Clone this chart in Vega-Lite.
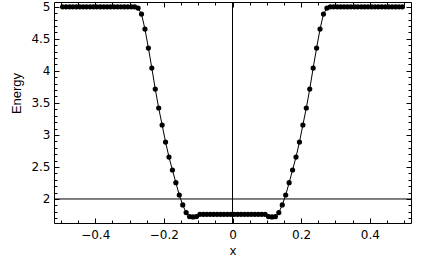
{
  "$schema": "https://vega.github.io/schema/vega-lite/v6.json",
  "width": 357,
  "height": 221,
  "autosize": "none",
  "padding": {"left": 54, "top": 2, "right": 10, "bottom": 37},
  "background": "white",
  "config": {
    "view": {"stroke": null},
    "axis": {
      "grid": false,
      "domainColor": "black",
      "domainWidth": 1,
      "tickColor": "black",
      "tickWidth": 1,
      "labelColor": "black",
      "labelFont": "DejaVu Sans",
      "labelFontSize": 12,
      "titleColor": "black",
      "titleFont": "Liberation Sans",
      "titleFontSize": 13,
      "titleFontWeight": "normal",
      "labelOverlap": false,
      "labelFlush": false
    }
  },
  "datasets": {
    "energy": [
      {"x": -0.495, "y": 5}, {"x": -0.485, "y": 5}, {"x": -0.475, "y": 5}, {"x": -0.465, "y": 5},
      {"x": -0.455, "y": 5}, {"x": -0.445, "y": 5}, {"x": -0.435, "y": 5}, {"x": -0.425, "y": 5},
      {"x": -0.415, "y": 5}, {"x": -0.405, "y": 5}, {"x": -0.395, "y": 5}, {"x": -0.385, "y": 5},
      {"x": -0.375, "y": 5}, {"x": -0.365, "y": 5}, {"x": -0.355, "y": 5}, {"x": -0.345, "y": 5},
      {"x": -0.335, "y": 5}, {"x": -0.325, "y": 5}, {"x": -0.315, "y": 5}, {"x": -0.305, "y": 5},
      {"x": -0.295, "y": 5}, {"x": -0.285, "y": 5}, {"x": -0.275, "y": 4.98}, {"x": -0.265, "y": 4.886},
      {"x": -0.255, "y": 4.652}, {"x": -0.245, "y": 4.356}, {"x": -0.235, "y": 4.044}, {"x": -0.225, "y": 3.716},
      {"x": -0.215, "y": 3.42}, {"x": -0.205, "y": 3.155}, {"x": -0.195, "y": 2.888}, {"x": -0.185, "y": 2.654},
      {"x": -0.175, "y": 2.452}, {"x": -0.165, "y": 2.254}, {"x": -0.155, "y": 2.062}, {"x": -0.145, "y": 1.907},
      {"x": -0.135, "y": 1.787}, {"x": -0.125, "y": 1.725}, {"x": -0.115, "y": 1.72}, {"x": -0.105, "y": 1.725},
      {"x": -0.095, "y": 1.76}, {"x": -0.085, "y": 1.76}, {"x": -0.075, "y": 1.76}, {"x": -0.065, "y": 1.76},
      {"x": -0.055, "y": 1.76}, {"x": -0.045, "y": 1.76}, {"x": -0.035, "y": 1.76}, {"x": -0.025, "y": 1.76},
      {"x": -0.015, "y": 1.76}, {"x": -0.005, "y": 1.76}, {"x": 0.005, "y": 1.76}, {"x": 0.015, "y": 1.76},
      {"x": 0.025, "y": 1.76}, {"x": 0.035, "y": 1.76}, {"x": 0.045, "y": 1.76}, {"x": 0.055, "y": 1.76},
      {"x": 0.065, "y": 1.76}, {"x": 0.075, "y": 1.76}, {"x": 0.085, "y": 1.76}, {"x": 0.095, "y": 1.76},
      {"x": 0.105, "y": 1.725}, {"x": 0.115, "y": 1.72}, {"x": 0.125, "y": 1.725}, {"x": 0.135, "y": 1.787},
      {"x": 0.145, "y": 1.907}, {"x": 0.155, "y": 2.062}, {"x": 0.165, "y": 2.254}, {"x": 0.175, "y": 2.452},
      {"x": 0.185, "y": 2.654}, {"x": 0.195, "y": 2.888}, {"x": 0.205, "y": 3.155}, {"x": 0.215, "y": 3.42},
      {"x": 0.225, "y": 3.716}, {"x": 0.235, "y": 4.044}, {"x": 0.245, "y": 4.356}, {"x": 0.255, "y": 4.652},
      {"x": 0.265, "y": 4.886}, {"x": 0.275, "y": 4.98}, {"x": 0.285, "y": 5}, {"x": 0.295, "y": 5},
      {"x": 0.305, "y": 5}, {"x": 0.315, "y": 5}, {"x": 0.325, "y": 5}, {"x": 0.335, "y": 5},
      {"x": 0.345, "y": 5}, {"x": 0.355, "y": 5}, {"x": 0.365, "y": 5}, {"x": 0.375, "y": 5},
      {"x": 0.385, "y": 5}, {"x": 0.395, "y": 5}, {"x": 0.405, "y": 5}, {"x": 0.415, "y": 5},
      {"x": 0.425, "y": 5}, {"x": 0.435, "y": 5}, {"x": 0.445, "y": 5}, {"x": 0.455, "y": 5},
      {"x": 0.465, "y": 5}, {"x": 0.475, "y": 5}, {"x": 0.485, "y": 5}, {"x": 0.495, "y": 5}
    ],
    "hline": [{"level": 2}],
    "vline": [{"origin": 0}]
  },
  "resolve": {"axis": {"x": "independent", "y": "independent"}},
  "layer": [
    {
      "data": {"name": "energy"},
      "mark": {"type": "line", "color": "black", "strokeWidth": 1},
      "encoding": {
        "x": {
          "field": "x", "type": "quantitative",
          "scale": {"domain": [-0.52, 0.52], "nice": false, "zero": false},
          "axis": {
            "orient": "bottom",
            "title": "x",
            "values": [-0.5, -0.45, -0.4, -0.35, -0.3, -0.25, -0.2, -0.15, -0.1, -0.05, 0, 0.05, 0.1, 0.15, 0.2, 0.25, 0.3, 0.35, 0.4, 0.45, 0.5],
            "tickSize": {"condition": {"test": "abs(datum.value*5 - round(datum.value*5)) < 0.000001", "value": -5}, "value": -3},
            "labelExpr": "abs(datum.value*5 - round(datum.value*5)) < 0.000001 ? format(datum.value, '~g') : ''",
            "labelBaseline": "top",
            "labelPadding": 11,
            "titleBaseline": "alphabetic",
            "titleY": 31
          }
        },
        "y": {
          "field": "y", "type": "quantitative",
          "scale": {"domain": [1.625, 5.075], "nice": false, "zero": false},
          "axis": {
            "orient": "left",
            "title": "Energy",
            "values": [1.7, 1.8, 1.9, 2, 2.1, 2.2, 2.3, 2.4, 2.5, 2.6, 2.7, 2.8, 2.9, 3, 3.1, 3.2, 3.3, 3.4, 3.5, 3.6, 3.7, 3.8, 3.9, 4, 4.1, 4.2, 4.3, 4.4, 4.5, 4.6, 4.7, 4.8, 4.9, 5],
            "tickSize": {"condition": {"test": "abs(datum.value*2 - round(datum.value*2)) < 0.000001", "value": -5}, "value": -3},
            "labelExpr": "abs(datum.value*2 - round(datum.value*2)) < 0.000001 ? format(datum.value, '~g') : ''",
            "labelPadding": 9,
            "titleAngle": -90,
            "titleBaseline": "alphabetic",
            "titleX": -34,
            "titleY": 91
          }
        }
      }
    },
    {
      "data": {"name": "energy"},
      "mark": {"type": "point", "filled": true, "color": "black", "opacity": 1, "size": 27},
      "encoding": {
        "x": {"field": "x", "type": "quantitative", "scale": {"domain": [-0.52, 0.52], "nice": false, "zero": false}, "axis": null},
        "y": {"field": "y", "type": "quantitative", "scale": {"domain": [1.625, 5.075], "nice": false, "zero": false}, "axis": null}
      }
    },
    {
      "data": {"name": "hline"},
      "mark": {"type": "rule", "color": "black", "strokeWidth": 1},
      "encoding": {
        "y": {
          "field": "level", "type": "quantitative",
          "scale": {"domain": [1.625, 5.075], "nice": false, "zero": false},
          "axis": {
            "orient": "right",
            "title": null,
            "labels": false,
            "values": [1.7, 1.8, 1.9, 2, 2.1, 2.2, 2.3, 2.4, 2.5, 2.6, 2.7, 2.8, 2.9, 3, 3.1, 3.2, 3.3, 3.4, 3.5, 3.6, 3.7, 3.8, 3.9, 4, 4.1, 4.2, 4.3, 4.4, 4.5, 4.6, 4.7, 4.8, 4.9, 5],
            "tickSize": {"condition": {"test": "abs(datum.value*2 - round(datum.value*2)) < 0.000001", "value": -5}, "value": -3}
          }
        }
      }
    },
    {
      "data": {"name": "vline"},
      "mark": {"type": "rule", "color": "black", "strokeWidth": 1},
      "encoding": {
        "x": {
          "field": "origin", "type": "quantitative",
          "scale": {"domain": [-0.52, 0.52], "nice": false, "zero": false},
          "axis": {
            "orient": "top",
            "title": null,
            "labels": false,
            "values": [-0.5, -0.45, -0.4, -0.35, -0.3, -0.25, -0.2, -0.15, -0.1, -0.05, 0, 0.05, 0.1, 0.15, 0.2, 0.25, 0.3, 0.35, 0.4, 0.45, 0.5],
            "tickSize": {"condition": {"test": "abs(datum.value*5 - round(datum.value*5)) < 0.000001", "value": -5}, "value": -3}
          }
        }
      }
    }
  ]
}
